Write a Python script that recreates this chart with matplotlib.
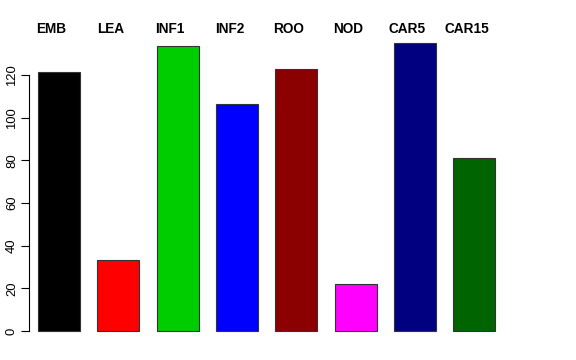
import matplotlib.pyplot as plt

# 各组的数值
groups = ['EMB', 'LEA', 'INF1', 'INF2', 'ROO', 'NOD', 'CAR5', 'CAR15']
values = [121.4, 33.3, 133.6, 106.2, 122.8, 22.0, 135.0, 80.9]
colors = ['black', 'red', '#00CD00', 'blue', '#8B0000', 'magenta', '#000080', '#006400']
yticks = [0, 20, 40, 60, 80, 100, 120]

plt.rcParams['font.family'] = ['Liberation Sans', 'DejaVu Sans']

fig = plt.figure(figsize=(5.76, 3.6), dpi=100)
ax = fig.add_axes([0, 0, 1, 1])

pitch = 59.33   # 像素间距
px_per_unit = 2.1333
x = list(range(len(groups)))
ax.bar(x, values, width=42 / pitch, color=colors, edgecolor='#333333', linewidth=0.8)

# 坐标范围与像素对齐
ax.set_xlim(-59 / pitch, (576 - 59) / pitch)
ax.set_ylim(-(360 - 331) / px_per_unit, 331 / px_per_unit)

for i, g in enumerate(groups):
    ax.text(i - 7.5 / pitch, (331 - 29.5) / px_per_unit, g, ha='center', va='center',
            fontsize=9.8, fontweight='bold')

for side in ['top', 'right', 'bottom']:
    ax.spines[side].set_visible(False)
ax.spines['left'].set_position(('data', (29 - 59) / pitch))
ax.spines['left'].set_bounds(0, 120)
ax.spines['left'].set_linewidth(0.8)
ax.set_xticks([])
ax.set_yticks(yticks)
ax.set_yticklabels([str(t) for t in yticks], rotation=90, va='center', fontsize=9.4)
ax.tick_params(axis='y', direction='out', length=5.5, width=0.8, pad=2.5)

plt.savefig('out.png', dpi=100)
